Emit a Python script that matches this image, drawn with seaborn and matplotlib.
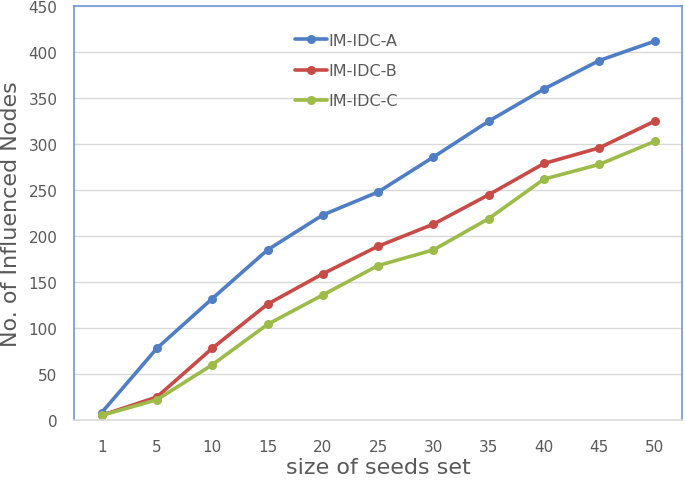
import pandas as pd
import matplotlib
matplotlib.use("Agg")
import matplotlib.pyplot as plt
import seaborn as sns

# values
seed_sizes = ["1", "5", "10", "15", "20", "25", "30", "35", "40", "45", "50"]
im_idc_a = [8, 78, 132, 185, 223, 248, 286, 325, 360, 391, 412]
im_idc_b = [5, 25, 78, 126, 159, 189, 213, 245, 279, 296, 325]
im_idc_c = [5, 22, 60, 104, 136, 168, 185, 219, 262, 278, 303]

series = {"IM-IDC-A": im_idc_a, "IM-IDC-B": im_idc_b, "IM-IDC-C": im_idc_c}
colors = {"IM-IDC-A": "#4F7EC5", "IM-IDC-B": "#C84B48", "IM-IDC-C": "#9DBB48"}

# long-form table for seaborn
frames = []
for name, vals in series.items():
    frames.append(pd.DataFrame({"seeds": seed_sizes, "nodes": vals, "method": name}))
df = pd.concat(frames, ignore_index=True)

sns.set_theme(style="white")
plt.rcParams["font.family"] = ["DejaVu Sans"]

fig = plt.figure(figsize=(6.85, 4.85), dpi=100)
ax = fig.add_axes([0.108, 0.132, 0.888, 0.853])

sns.lineplot(data=df, x="seeds", y="nodes", hue="method", palette=colors,
             marker="o", markersize=6.5, markeredgewidth=0, linewidth=2.6,
             sort=False, ax=ax)

ax.set_xlim(-0.5, len(seed_sizes) - 0.5)
ax.set_ylim(0, 450)
ax.set_yticks(range(0, 451, 50))
ax.yaxis.grid(True, color="#D9D9D9", linewidth=1)
ax.set_axisbelow(True)

# blue frame around the plot area, grey base line
for side in ["left", "top", "right"]:
    ax.spines[side].set_color("#6F97D6")
    ax.spines[side].set_linewidth(1.2)
ax.spines["bottom"].set_color("#D9D9D9")
ax.spines["bottom"].set_linewidth(1.2)

ax.tick_params(axis="both", length=0, labelsize=11, colors="#595959", pad=12)
ax.tick_params(axis="x", pad=14)

ax.set_xlabel("size of seeds set", fontsize=16, color="#595959", labelpad=2)
ax.set_ylabel("No. of Influenced Nodes", fontsize=16, color="#595959")
ax.yaxis.set_label_coords(-0.087, 0.5)

leg = ax.legend(loc="upper left", bbox_to_anchor=(0.34, 0.97), frameon=False,
                fontsize=11.5, handlelength=2.0, handletextpad=0.1, labelspacing=0.95)
for t in leg.get_texts():
    t.set_color("#595959")

fig.savefig("out.png", dpi=100)
